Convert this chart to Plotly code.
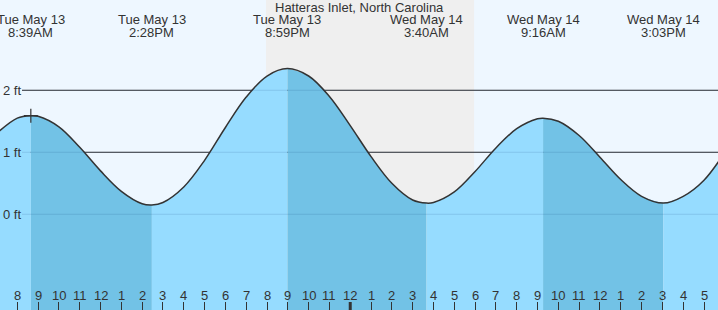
import plotly.graph_objects as go

# ---------------- data ----------------
# hours since Tue May 13 00:00, tide height in ft
times = [7, 8, 8.65, 9, 10, 11, 12, 13, 14, 14.467, 15, 16, 17, 18, 19, 20, 20.983,
         22, 23, 24, 25, 26, 27, 27.667, 28, 29, 30, 31, 32, 33, 33.267, 34, 35, 36,
         37, 38, 39.05, 40, 41, 42]
heights = [1.30, 1.55, 1.59, 1.58, 1.41, 1.08, 0.70, 0.37, 0.17, 0.15, 0.19, 0.44,
           0.87, 1.40, 1.89, 2.23, 2.35, 2.23, 1.90, 1.43, 0.93, 0.50, 0.23, 0.18,
           0.19, 0.36, 0.69, 1.07, 1.38, 1.54, 1.55, 1.50, 1.27, 0.92, 0.56, 0.29,
           0.18, 0.29, 0.55, 1.00]

extreme_times = [8.65, 14.467, 20.983, 27.667, 33.267, 39.05]
extreme_day = ["Tue May 13", "Tue May 13", "Tue May 13", "Wed May 14", "Wed May 14", "Wed May 14"]
extreme_clock = ["8:39AM", "2:28PM", "8:59PM", "3:40AM", "9:16AM", "3:03PM"]
extreme_kind = ["H", "L", "H", "L", "H", "L"]

hour_ticks = list(range(8, 42))
hour_labels = [str(h % 12 if h % 12 else 12) for h in hour_ticks]
midnight = 24

night_start, night_end = 19.95, 29.95
level_ticks = [0, 1, 2]
level_labels = ["0 ft", "1 ft", "2 ft"]
title = "Hatteras Inlet, North Carolina"

# ---------------- styling ----------------
X_RANGE = [7.1686, 41.673]
Y_RANGE = [-1.544, 3.456]
BOTTOM = -3
LIGHT = "#96DCFF"
DARK = "#72C2E6"
BG = "#EEF7FF"
NIGHT = "#EFEFEF"
TXT = "#333333"
FONT = "Liberation Sans, Arial, sans-serif"

fig = go.Figure()

# segment boundaries
bounds = [times[0]] + extreme_times + [times[-1]]
for i in range(len(bounds) - 1):
    a, b = bounds[i], bounds[i + 1]
    xs = [t for t in times if a <= t <= b]
    ys = [h for t, h in zip(times, heights) if a <= t <= b]
    # falling tide (after a high) is darker
    falling = i > 0 and extreme_kind[i - 1] == "H"
    color = DARK if falling else LIGHT
    fig.add_trace(go.Scatter(x=[a, b], y=[BOTTOM, BOTTOM], mode="lines",
                             line=dict(width=0), hoverinfo="skip", showlegend=False))
    fig.add_trace(go.Scatter(x=xs, y=ys, mode="lines", fill="tonexty",
                             fillcolor=color, line=dict(width=0, shape="spline"),
                             hoverinfo="skip", showlegend=False))

# tide curve
fig.add_trace(go.Scatter(x=times, y=heights, mode="lines",
                         line=dict(color=TXT, width=1.5, shape="spline"),
                         hoverinfo="skip", showlegend=False))

# current-time marker
fig.add_trace(go.Scatter(x=[extreme_times[0]], y=[heights[times.index(extreme_times[0])]],
                         mode="markers",
                         marker=dict(symbol="cross-thin", size=10,
                                     line=dict(color=TXT, width=1.2)),
                         hoverinfo="skip", showlegend=False))

shapes = []
shapes.append(dict(type="rect", xref="x", yref="paper", x0=night_start, x1=night_end,
                   y0=0, y1=1, fillcolor=NIGHT, line=dict(width=0), layer="below"))
for lv in level_ticks:
    if lv > 0:
        shapes.append(dict(type="line", xref="paper", yref="y", x0=22 / 718, x1=1,
                           y0=lv, y1=lv, line=dict(color=TXT, width=1), layer="below"))
    shapes.append(dict(type="line", xref="paper", yref="y", x0=22 / 718, x1=1,
                       y0=lv, y1=lv, line=dict(color="rgba(0,50,110,0.13)", width=1),
                       layer="above"))
shapes.append(dict(type="line", xref="x", yref="paper", x0=midnight, x1=midnight,
                   y0=0, y1=8 / 310, line=dict(color=TXT, width=3)))

ann = []
ann.append(dict(text=title, x=0.5, xref="paper", y=1 - 7 / 310, yref="paper",
                showarrow=False, xanchor="center", yanchor="middle",
                font=dict(size=13, color=TXT, family=FONT)))
for t, d, c in zip(extreme_times, extreme_day, extreme_clock):
    ann.append(dict(text=d, x=t, xref="x", y=1 - 20 / 310, yref="paper",
                    showarrow=False, xanchor="center", yanchor="middle",
                    font=dict(size=13, color=TXT, family=FONT)))
    ann.append(dict(text=c, x=t, xref="x", y=1 - 32 / 310, yref="paper",
                    showarrow=False, xanchor="center", yanchor="middle",
                    font=dict(size=13, color=TXT, family=FONT)))
for h, lab in zip(hour_ticks, hour_labels):
    ann.append(dict(text=lab, x=h, xref="x", y=15 / 310, yref="paper",
                    showarrow=False, xanchor="center", yanchor="middle",
                    font=dict(size=13, color=TXT, family=FONT)))
for lv, lab in zip(level_ticks, level_labels):
    ann.append(dict(text=lab, x=0, xref="paper", y=lv, yref="y", xshift=1,
                    showarrow=False, xanchor="left", yanchor="middle",
                    font=dict(size=13, color=TXT, family=FONT)))

fig.update_layout(
    width=718, height=310,
    margin=dict(l=0, r=0, t=0, b=0),
    paper_bgcolor=BG, plot_bgcolor=BG,
    shapes=shapes, annotations=ann,
    showlegend=False,
    xaxis=dict(range=X_RANGE, tickvals=hour_ticks, showticklabels=False,
               ticks="inside", ticklen=8, tickcolor=TXT, tickwidth=1,
               showgrid=False, zeroline=False, showline=False, fixedrange=True),
    yaxis=dict(range=Y_RANGE, showticklabels=False, showgrid=False,
               zeroline=False, showline=False, ticks="", fixedrange=True),
)

fig.write_html("out.html", config={"displayModeBar": False})
